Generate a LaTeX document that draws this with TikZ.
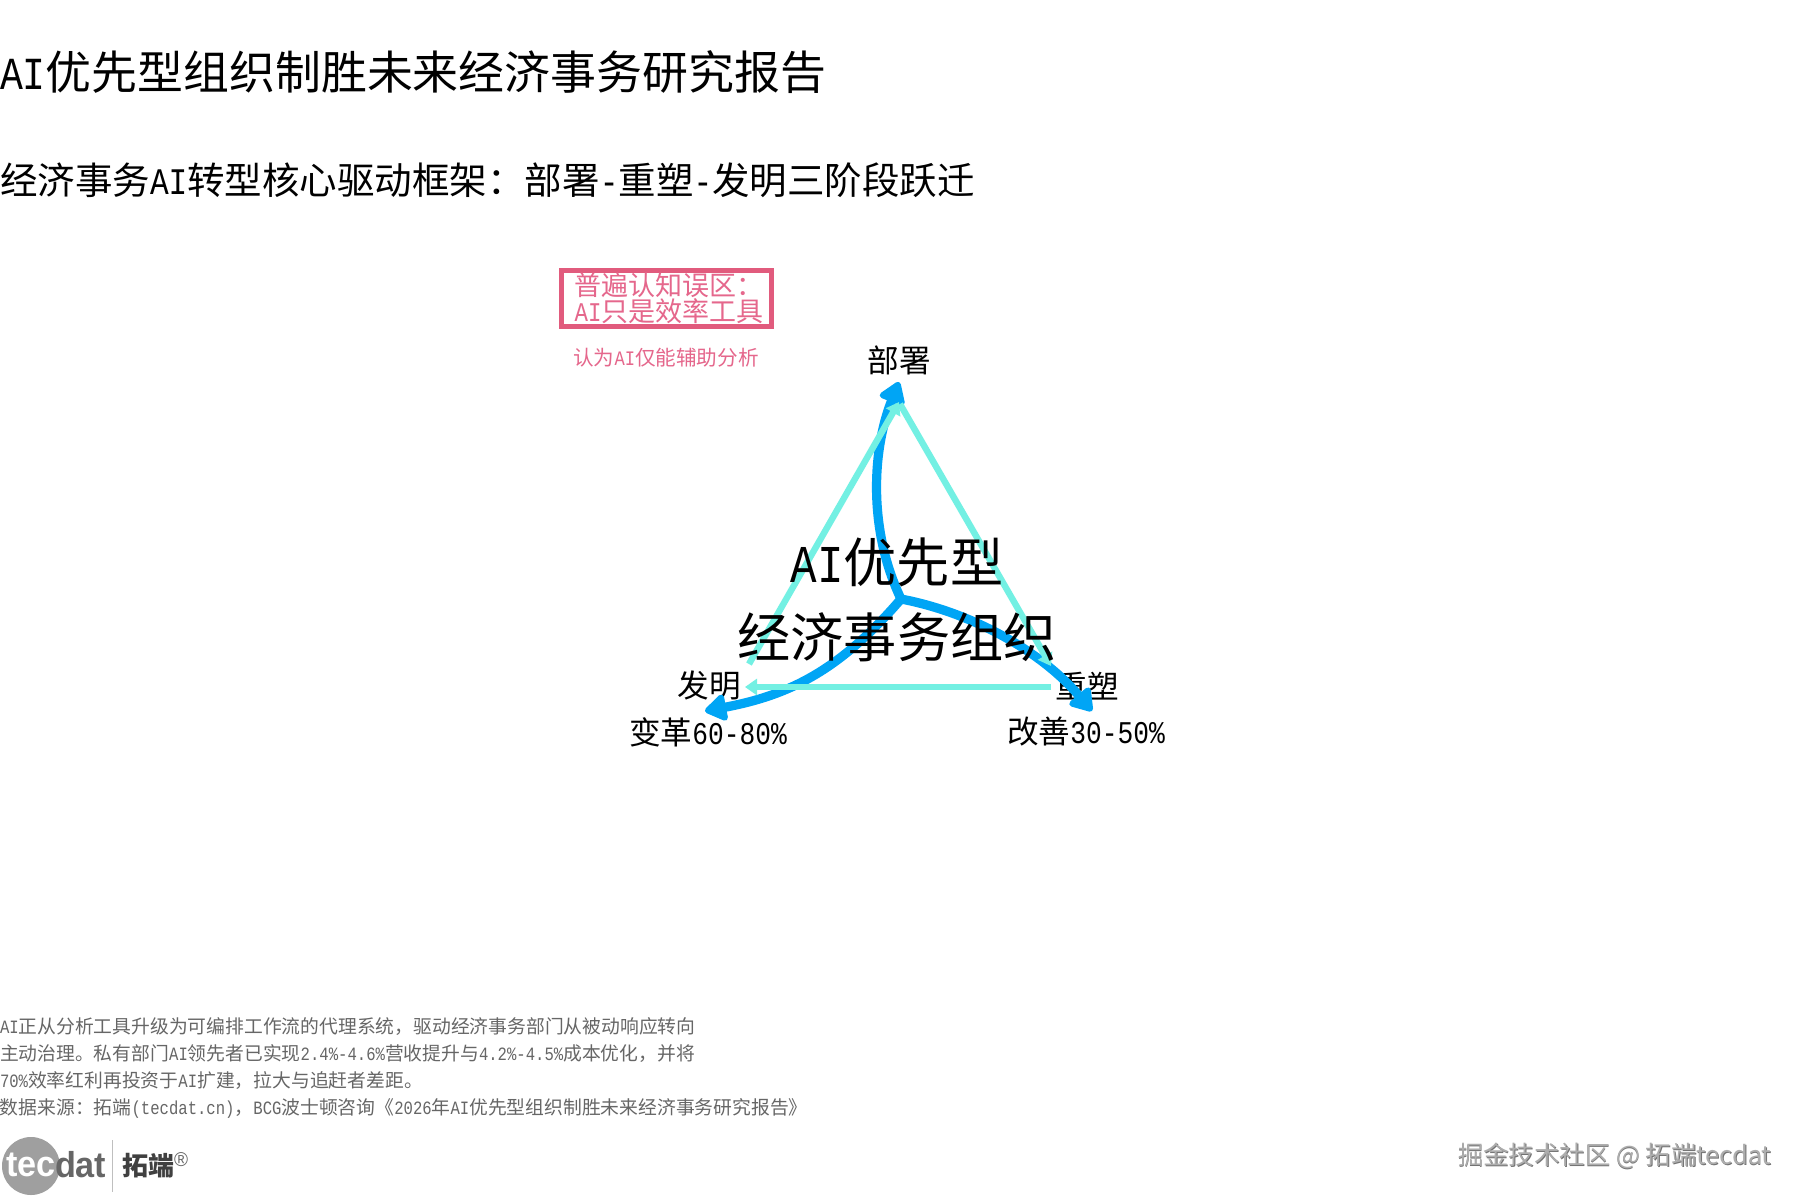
\documentclass[tikz,border=0pt]{standalone}
\usepackage{fontspec}
\usetikzlibrary{arrows.meta}
\setmainfont{Noto Sans CJK SC}
\newfontfamily\latn[FakeStretch=0.83]{Liberation Mono}
\newfontfamily\logofont[FakeStretch=0.95]{Liberation Sans}
\newcommand\ltn[1]{{\latn #1}}
\definecolor{cyanline}{HTML}{73F0E3}
\definecolor{blueline}{HTML}{00A5F5}
\definecolor{pinkline}{HTML}{E15B7D}
\definecolor{pinktext}{HTML}{E5678C}
\definecolor{foot}{HTML}{666666}
\tikzset{
  txt/.style={inner sep=0pt,outer sep=0pt},
  titletext/.style={txt,anchor=west,font=\fontsize{22.95pt}{28pt}\selectfont},
  subtext/.style={txt,anchor=west,font=\fontsize{18.75pt}{23pt}\selectfont},
  label/.style={txt,font=\fontsize{15.8pt}{19pt}\selectfont},
  hubtext/.style={txt,align=center,font=\fontsize{26.6pt}{37.5pt}\selectfont},
  footnote/.style={txt,anchor=north west,align=left,text=foot,font=\fontsize{9.4pt}{13.5pt}\selectfont},
  mythbox/.style={draw=pinkline,line width=2.8pt,minimum width=105pt,minimum height=28pt,inner sep=0pt,
    text=pinktext,align=center,font=\fontsize{13.5pt}{13pt}\selectfont},
  bluearrow/.style={draw=blueline,line width=4.6pt,-{Triangle[length=12pt,width=15pt,round]}},
  cyanarrow/.style={draw=cyanline,line width=3.2pt,-{Triangle[length=6pt,width=8pt]}},
}
\begin{document}
\begin{tikzpicture}[x=0.5pt,y=-0.5pt]
\path[use as bounding box,fill=white] (0,0) rectangle (1800,1200);
\node[titletext] (title) at (0,72) {\ltn{AI}优先型组织制胜未来经济事务研究报告};
\node[subtext] (subtitle) at (0,180) {经济事务\ltn{AI}转型核心驱动框架：部署\ltn{-}重塑\ltn{-}发明三阶段跃迁};
\node[mythbox] (myth) at (666.5,298.5) {\hspace*{2.5pt}普遍认知误区：\\\hspace*{2.5pt}\ltn{AI}只是效率工具};
\node[txt,text=pinktext,font=\fontsize{10.3pt}{12pt}\selectfont] (mythnote) at (666,358) {认为\ltn{AI}仅能辅助分析};
\node[label] (deploy) at (899,360) {部署};
\node[label] (invent) at (709,686) {发明};
\node[label] (reshape) at (1087,686) {重塑};
\node[label] (change) at (708,732) {变革\ltn{60-80\%}};
\node[label] (improve) at (1086,732) {改善\ltn{30-50\%}};
\coordinate (hub) at (901,599);
\coordinate (tipT) at (899,382);
\coordinate (tipR) at (1092,711);
\coordinate (tipL) at (705,711);
\coordinate (triT) at (899,402);
\coordinate (triRa) at (900,404);
\coordinate (triRb) at (1051,666);
\coordinate (triBa) at (1051,687);
\coordinate (triBb) at (745,687);
\coordinate (triLa) at (749,664);
\draw[bluearrow] (hub) .. controls (868,530) and (872,450) .. (tipT);
\draw[bluearrow] (hub) .. controls (970,612) and (1040,650) .. (tipR);
\draw[bluearrow] (hub) .. controls (840,670) and (790,695) .. (tipL);
\draw[cyanarrow] (triLa) -- (triT);
\draw[cyanarrow] (triRa) -- (triRb);
\draw[cyanarrow] (triBa) -- (triBb);
\node[hubtext] (core) at (897,600) {\ltn{AI}优先型\\经济事务组织};
\node[footnote] (notes) at (0,1018) {\ltn{AI}正从分析工具升级为可编排工作流的代理系统，驱动经济事务部门从被动响应转向\\主动治理。私有部门\ltn{AI}领先者已实现\ltn{2.4\%-4.6\%}营收提升与\ltn{4.2\%-4.5\%}成本优化，并将\\\ltn{70\%}效率红利再投资于\ltn{AI}扩建，拉大与追赶者差距。\\数据来源：拓端\ltn{(tecdat.cn)}，\ltn{BCG}波士顿咨询《\ltn{2026}年\ltn{AI}优先型组织制胜未来经济事务研究报告》};
\node[circle,fill=gray!75,minimum size=29pt,inner sep=0pt] (logodisc) at (31,1166) {};
\node[txt,anchor=west,text=white,font=\logofont\bfseries\fontsize{18pt}{20pt}\selectfont] (logotec) at (6,1165) {tec};
\node[txt,anchor=west,text=foot,font=\logofont\bfseries\fontsize{18pt}{20pt}\selectfont] (logodat) at (55,1165) {dat};
\draw[gray!50,line width=0.5pt] (112,1140) -- (112,1192);
\node[txt,anchor=west,text=black!75,font=\bfseries\fontsize{13pt}{14pt}\selectfont] (logocn) at (122,1166) {拓端};
\node[txt,anchor=west,text=foot,font=\logofont\fontsize{10pt}{10pt}\selectfont] (logor) at (174,1160) {®};
\node[txt,anchor=west,text=black!55,font=\fontsize{12.7pt}{15pt}\selectfont] (markshadow) at (1458.8,1156.8) {掘金技术社区 @ 拓端tecdat};
\node[txt,anchor=west,text=black!32,font=\fontsize{12.7pt}{15pt}\selectfont] (mark) at (1458,1156) {掘金技术社区 @ 拓端tecdat};
\end{tikzpicture}
\end{document}
